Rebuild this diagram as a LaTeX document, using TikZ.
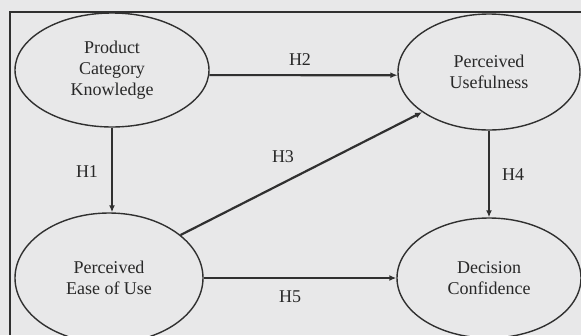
\documentclass[tikz,border=0pt]{standalone}
\usepackage{fontspec}
\setmainfont{Liberation Serif}
\usetikzlibrary{shapes.geometric,arrows.meta}
\definecolor{bg}{RGB}{232,232,233}
\definecolor{ink}{RGB}{48,48,48}
\definecolor{txt}{RGB}{40,40,40}
\begin{document}
\begin{tikzpicture}[x=1pt,y=-1pt,
  oval/.style={ellipse,draw=ink,line width=1.4pt,inner sep=0pt,align=center,
    text=txt,font=\fontsize{18}{21}\selectfont},
  arr/.style={draw=ink,line width=2.2pt,-{Latex[length=7pt,width=6pt]}},
  lbl/.style={text=txt,font=\fontsize{18}{20}\selectfont,inner sep=0pt}]
\fill[bg] (0,0) rectangle (581,335);
\useasboundingbox (0,0) rectangle (581,335);
\draw[ink,line width=1.6pt] (581,12) -- (10,12) -- (10,335);
\node[oval,minimum width=194pt,minimum height=114pt] (pck) at (112,70) {Product\\Category\\Knowledge};
\node[oval,minimum width=182pt,minimum height=116pt] (pu) at (489,72) {Perceived\\Usefulness};
\node[oval,minimum width=188pt,minimum height=130pt] (peu) at (109,278) {Perceived\\Ease of Use};
\node[oval,minimum width=184pt,minimum height=120pt] (dc) at (489,278) {Decision\\Confidence};
\draw[arr] (pck.south) -- (pck.south |- peu.north);
\draw[arr] (pck.-3) -- (pu.182);
\draw[arr] (peu.31) -- (pu.211);
\draw[arr] (pu.south) -- (dc.north);
\draw[arr] (peu.east) -- (dc.west);
\node[lbl] (h1) at (87,172) {H1};
\node[lbl] (h2) at (300,60) {H2};
\node[lbl] (h3) at (283,157) {H3};
\node[lbl] (h4) at (513,175) {H4};
\node[lbl] (h5) at (290,297) {H5};
\end{tikzpicture}
\end{document}
